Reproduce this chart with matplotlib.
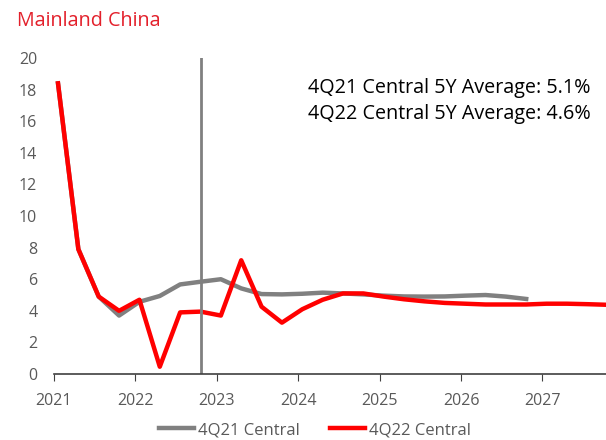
import numpy as np
import matplotlib.pyplot as plt

plt.rcParams['font.family'] = ['Open Sans', 'DejaVu Sans']

# quarterly points, Q1 2021 .. Q4 2027
quarters = 2021.05 + 0.25 * np.arange(28)

central_4q21 = [18.4, 7.9, 4.9, 3.7, 4.57, 4.94, 5.67, 5.84, 6.0, 5.42, 5.06, 5.04,
                5.08, 5.15, 5.1, 5.04, 4.96, 4.91, 4.9, 4.91, 4.96, 5.0, 4.9, 4.75]
central_4q22 = [18.4, 7.9, 4.9, 4.0, 4.7, 0.46, 3.9, 3.95, 3.7, 7.2, 4.26, 3.25,
                4.1, 4.7, 5.1, 5.1, 4.9, 4.73, 4.6, 4.5, 4.45, 4.4, 4.4, 4.4,
                4.45, 4.45, 4.42, 4.38]

year_ticks = [2021, 2022, 2023, 2024, 2025, 2026, 2027]
y_ticks = list(range(0, 21, 2))
cut_off = 2022.8
notes = ["4Q21 Central 5Y Average: 5.1%", "4Q22 Central 5Y Average: 4.6%"]

fig = plt.figure(figsize=(6.06, 4.40), dpi=100)
ax = fig.add_axes([0.089, 0.15, 0.911, 0.718])

ax.plot(quarters[:len(central_4q21)], central_4q21, color='#808080', lw=3.2,
        label='4Q21 Central', solid_joinstyle='round')
ax.plot(quarters[:len(central_4q22)], central_4q22, color='#ff0000', lw=3.2,
        label='4Q22 Central', solid_joinstyle='round')
ax.axvline(cut_off, color='#808080', lw=2)

ax.set_xlim(2021, 2027.78)
ax.set_ylim(0, 20)
ax.set_xticks(year_ticks)
ax.set_yticks(y_ticks)
for s in ['top', 'right', 'left']:
    ax.spines[s].set_visible(False)
ax.spines['bottom'].set_color('#404040')
ax.spines['bottom'].set_linewidth(1.2)
ax.tick_params(axis='y', length=0, pad=12, labelsize=11.5, labelcolor='#595959')
ax.tick_params(axis='x', length=5, direction='out', color='#404040', pad=9,
               labelsize=11.5, labelcolor='#595959')

fig.text(0.028, 0.953, 'Mainland China', color='#e3202b', fontsize=14.2, va='center')
ax.text(0.46, 0.905, notes[0], transform=ax.transAxes, fontsize=14.2, va='center')
ax.text(0.46, 0.822, notes[1], transform=ax.transAxes, fontsize=14.2, va='center')

fig.legend(loc='center', bbox_to_anchor=(0.52, 0.022), ncol=2, frameon=False,
           fontsize=12, handlelength=2.1, handletextpad=0.25, columnspacing=1.8,
           labelcolor='#595959')

fig.savefig('out.png', dpi=100)
